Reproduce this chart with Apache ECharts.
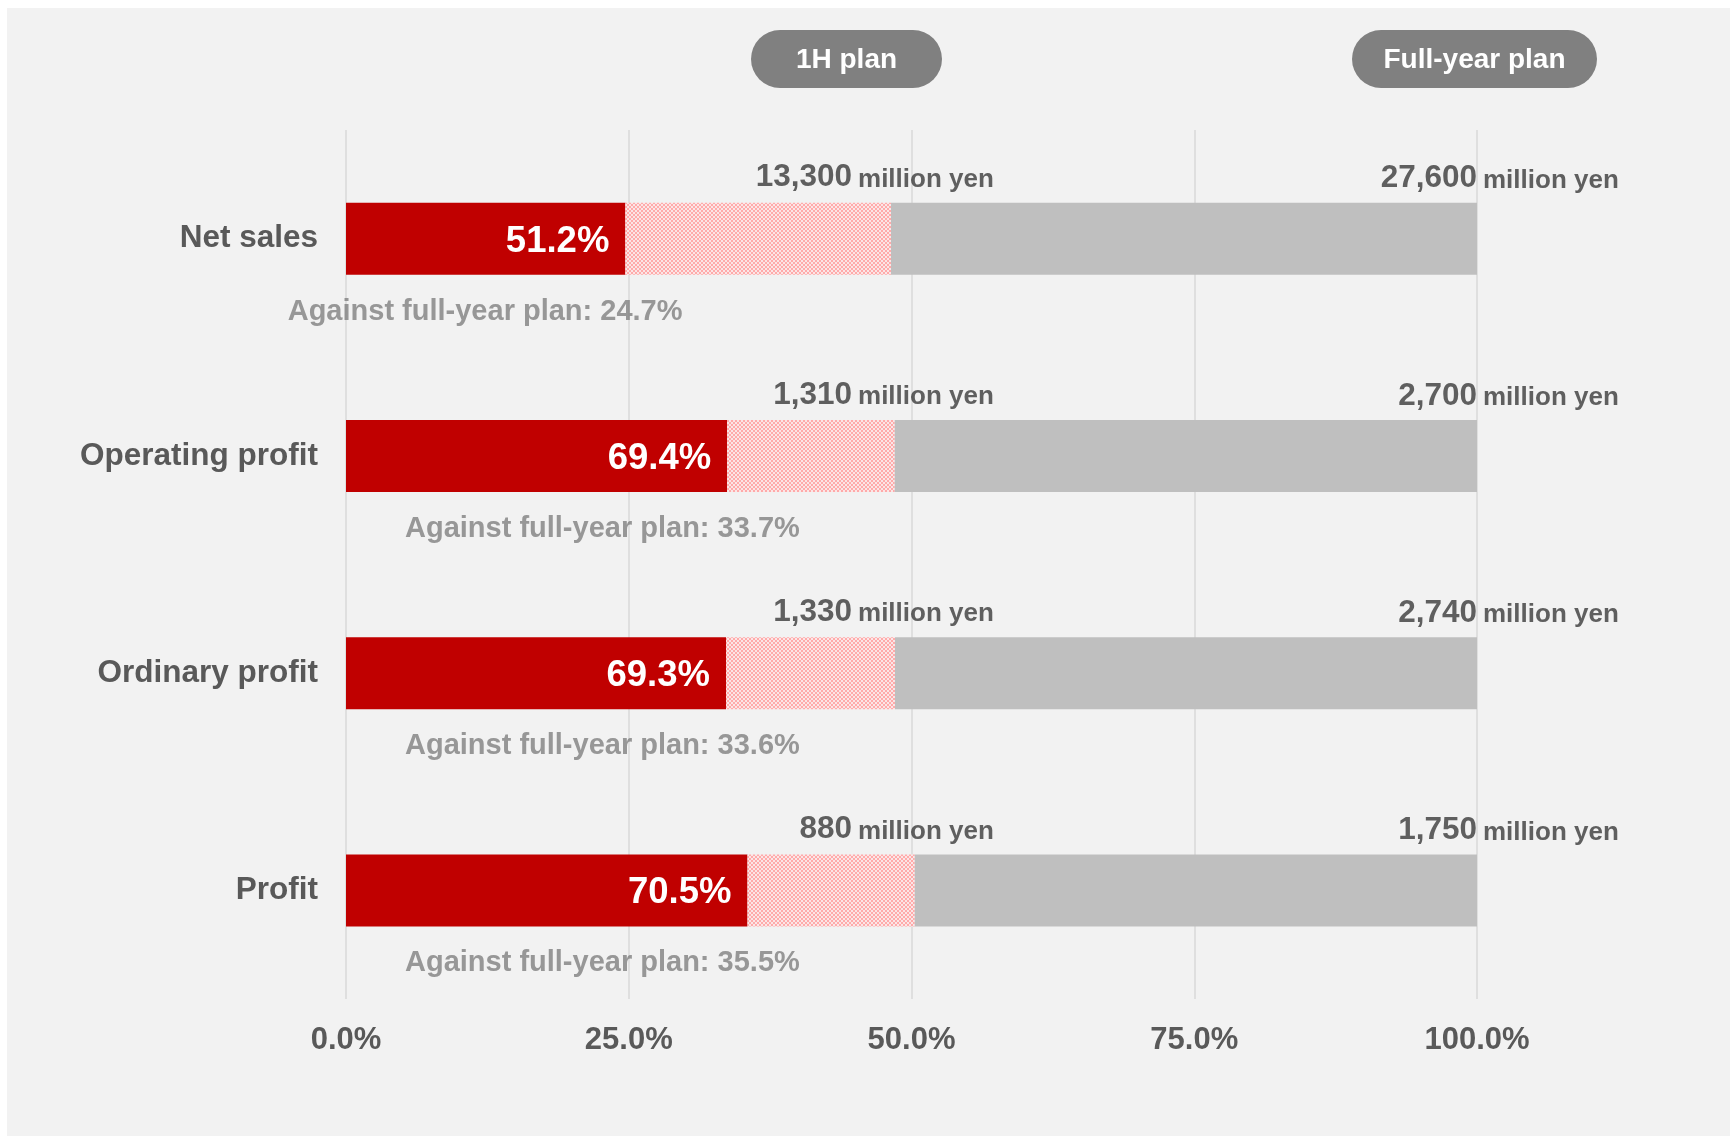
<!DOCTYPE html>
<html><head><meta charset="utf-8">
<script src="https://cdn.jsdelivr.net/npm/echarts@6/dist/echarts.min.js"></script>
<style>
html,body{margin:0;padding:0;background:#ffffff;}
#c{position:absolute;left:7px;top:8px;width:1723px;height:1128px;background:#f2f2f2;}
</style></head>
<body><div id="c"></div>
<script>
// ---- data ----
var categories = ['Net sales', 'Operating profit', 'Ordinary profit', 'Profit'];
var actualVsFullYear = [24.7, 33.7, 33.6, 35.5];      // % of full-year plan (red bar)
var actualVs1H = [51.2, 69.4, 69.3, 70.5];            // % of 1H plan (label in red bar)
var plan1H = [13300, 1310, 1330, 880];                // million yen
var planFullYear = [27600, 2700, 2740, 1750];         // million yen
var xTicks = [0, 25, 50, 75, 100];

var FONT = "'Liberation Sans', Arial, sans-serif";

// derived
var plan1HPct = plan1H.map(function (v, i) { return v / planFullYear[i] * 100; });
var pinkPart = plan1HPct.map(function (p, i) { return +(p - actualVsFullYear[i]).toFixed(3); });
var grayPart = plan1HPct.map(function (p) { return +(100 - p).toFixed(3); });
function fmt(n) { return n.toLocaleString('en-US'); }

// checker pattern for 1H-plan remainder
var pc = document.createElement('canvas');
pc.width = 4; pc.height = 4;
var g = pc.getContext('2d');
g.fillStyle = '#fbe6e6'; g.fillRect(0, 0, 4, 4);
g.fillStyle = '#ffaaaa'; g.fillRect(0, 0, 2, 2); g.fillRect(2, 2, 2, 2);

var chart = echarts.init(document.getElementById('c'), null, { renderer: 'canvas' });

var labelAnchor1H = 44.74;     // x (in %) where 1H numbers end
var againstX = [12.3, 22.67, 22.67, 22.67];

function pts(x) { return categories.map(function (c, i) { return [Array.isArray(x) ? x[i] : x, i]; }); }

var option = {
  backgroundColor: '#f2f2f2',
  animation: false,
  grid: { left: 339, right: 253, top: 122, bottom: 137 },
  xAxis: {
    type: 'value', min: 0, max: 100, interval: 25,
    axisLine: { show: false }, axisTick: { show: false },
    splitLine: { show: true, lineStyle: { color: '#d9d9d9', width: 1.5 } },
    axisLabel: {
      margin: 26, color: '#595959', fontSize: 31, fontWeight: 'bold', fontFamily: FONT,
      formatter: function (v) { return v.toFixed(1) + '%'; }
    }
  },
  yAxis: {
    type: 'category', data: categories, inverse: true,
    axisLine: { show: false }, axisTick: { show: false }, splitLine: { show: false },
    axisLabel: { margin: 28, color: '#595959', fontSize: 31.5, fontWeight: 'bold', fontFamily: FONT, padding: [4, 0, 0, 0] }
  },
  series: [
    {
      type: 'bar', stack: 'a', data: actualVsFullYear, barWidth: 72,
      itemStyle: { color: '#c00000' },
      label: {
        show: true, position: 'insideRight', distance: 16, offset: [0, 3],
        color: '#ffffff', fontSize: 36.5, fontWeight: 'bold', fontFamily: FONT,
        formatter: function (p) { return actualVs1H[p.dataIndex].toFixed(1) + '%'; }
      }
    },
    {
      type: 'bar', stack: 'a', data: pinkPart, barWidth: 72,
      itemStyle: { color: { image: pc, repeat: 'repeat' } }
    },
    {
      type: 'bar', stack: 'a', data: grayPart, barWidth: 72,
      itemStyle: { color: '#bfbfbf' }
    },
    // 1H plan number
    {
      type: 'scatter', data: pts(labelAnchor1H), symbolSize: 0, silent: true,
      label: {
        show: true, position: 'left', distance: 0, offset: [0, -61],
        color: '#3a3a3a', fontSize: 31.5, fontWeight: 'bold', fontFamily: FONT,
        formatter: function (p) { return fmt(plan1H[p.dataIndex]); }
      }
    },
    {
      type: 'scatter', data: pts(labelAnchor1H), symbolSize: 0, silent: true,
      label: {
        show: true, position: 'right', distance: 6, offset: [0, -59],
        color: '#3a3a3a', fontSize: 26, fontWeight: 'bold', fontFamily: FONT,
        formatter: 'million yen'
      }
    },
    // Full-year plan number
    {
      type: 'scatter', data: pts(100), symbolSize: 0, silent: true,
      label: {
        show: true, position: 'left', distance: 0, offset: [0, -60],
        color: '#3a3a3a', fontSize: 31.5, fontWeight: 'bold', fontFamily: FONT,
        formatter: function (p) { return fmt(planFullYear[p.dataIndex]); }
      }
    },
    {
      type: 'scatter', data: pts(100), symbolSize: 0, silent: true,
      label: {
        show: true, position: 'right', distance: 6, offset: [0, -58],
        color: '#3a3a3a', fontSize: 26, fontWeight: 'bold', fontFamily: FONT,
        formatter: 'million yen'
      }
    },
    // Against full-year plan
    {
      type: 'scatter', data: pts(againstX), symbolSize: 0, silent: true,
      label: {
        show: true, position: 'inside', offset: [0, 73],
        color: '#7f7f7f', fontSize: 29, fontWeight: 'bold', fontFamily: FONT,
        formatter: function (p) { return 'Against full-year plan: ' + actualVsFullYear[p.dataIndex].toFixed(1) + '%'; }
      }
    }
  ],
  graphic: [
    {
      type: 'group', left: 744, top: 22, children: [
        { type: 'rect', shape: { x: 0, y: 0, width: 191, height: 58, r: 29 }, style: { fill: '#808080' } },
        { type: 'text', x: 95.5, y: 30, style: { text: '1H plan', fill: '#ffffff', font: 'bold 28px ' + FONT, align: 'center', verticalAlign: 'middle' } }
      ]
    },
    {
      type: 'group', left: 1345, top: 22, children: [
        { type: 'rect', shape: { x: 0, y: 0, width: 245, height: 58, r: 29 }, style: { fill: '#808080' } },
        { type: 'text', x: 122.5, y: 30, style: { text: 'Full-year plan', fill: '#ffffff', font: 'bold 28px ' + FONT, align: 'center', verticalAlign: 'middle' } }
      ]
    }
  ]
};
chart.setOption(option);
</script></body></html>
